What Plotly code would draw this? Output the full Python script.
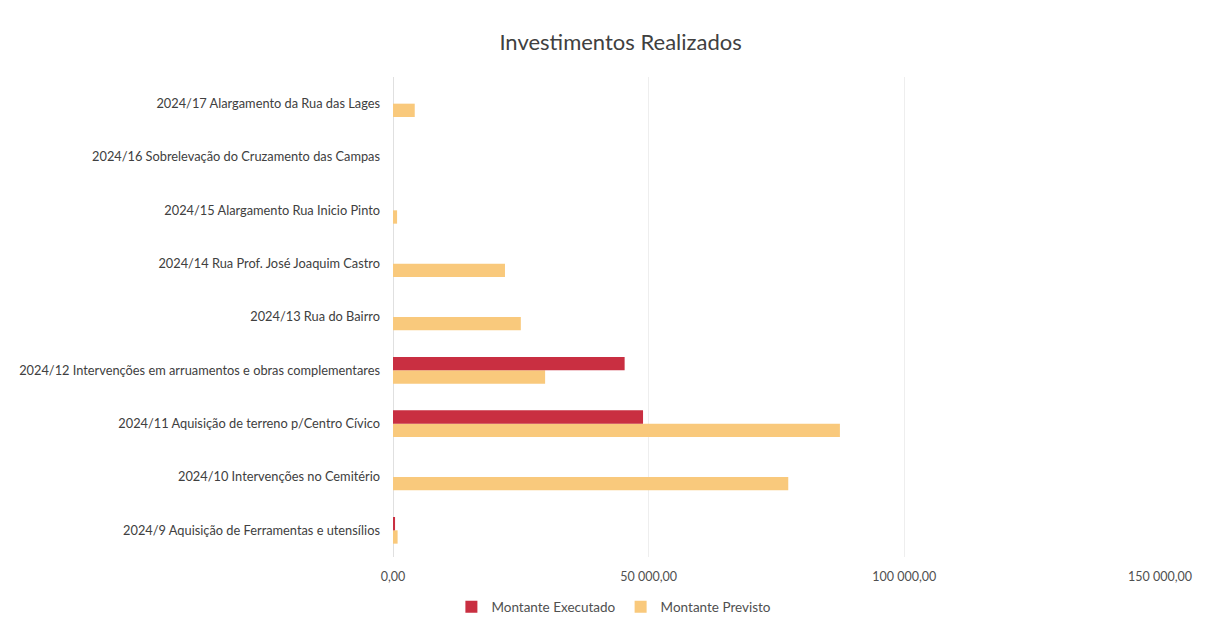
import plotly.graph_objects as go

categories = [
    "2024/9 Aquisição de Ferramentas e utensílios",
    "2024/10 Intervenções no Cemitério",
    "2024/11 Aquisição de terreno p/Centro Cívico",
    "2024/12 Intervenções em arruamentos e obras complementares",
    "2024/13 Rua do Bairro",
    "2024/14 Rua Prof. José Joaquim Castro",
    "2024/15 Alargamento Rua Inicio Pinto",
    "2024/16 Sobrelevação do Cruzamento das Campas",
    "2024/17 Alargamento da Rua das Lages",
]
executado = [400, 0, 48900, 45300, 0, 0, 0, 0, 0]
previsto = [900, 77300, 87400, 29750, 25000, 21900, 800, 0, 4250]
x_ticks = [0, 50000, 100000, 150000]

font_family = "Lato, 'Open Sans', sans-serif"
fig = go.Figure()
fig.add_trace(go.Bar(y=categories, x=previsto, name="Montante Previsto",
                     orientation="h", marker=dict(color="#F9C97C", line=dict(width=0))))
fig.add_trace(go.Bar(y=categories, x=executado, name="Montante Executado",
                     orientation="h", marker=dict(color="#C92F41", line=dict(width=0))))

fig.update_layout(
    width=1213, height=618,
    paper_bgcolor="white", plot_bgcolor="white",
    separators=", ",
    font=dict(family=font_family, color="#505050", size=12),
    title=dict(text="Investimentos Realizados", x=0.505, xanchor="center",
               y=0.945, yanchor="middle", font=dict(size=22, color="#404040")),
    barmode="group", bargap=0.5, bargroupgap=0,
    margin=dict(l=385, r=61, t=69, b=69, autoexpand=False),
    showlegend=True,
    legend=dict(orientation="h", x=0.288, xanchor="center", y=-0.104, yanchor="middle",
                traceorder="reversed", font=dict(size=13.5, color="#505050"),
                itemwidth=30, tracegroupgap=0),
    xaxis=dict(range=[0, 150000], tickvals=x_ticks, tickformat=",.2f",
               showgrid=True, gridcolor="#EEEEEE", gridwidth=1,
               zeroline=True, zerolinecolor="#E0E0E0", zerolinewidth=1,
               showline=False, ticks="", ticklabelstandoff=10,
               tickfont=dict(size=12.5, color="#505050"),
               fixedrange=True),
    yaxis=dict(showgrid=False, showline=False, ticks="", ticklabelstandoff=12,
               tickfont=dict(size=12.8, color="#404040"), fixedrange=True),
)

fig.write_html("out.html")
